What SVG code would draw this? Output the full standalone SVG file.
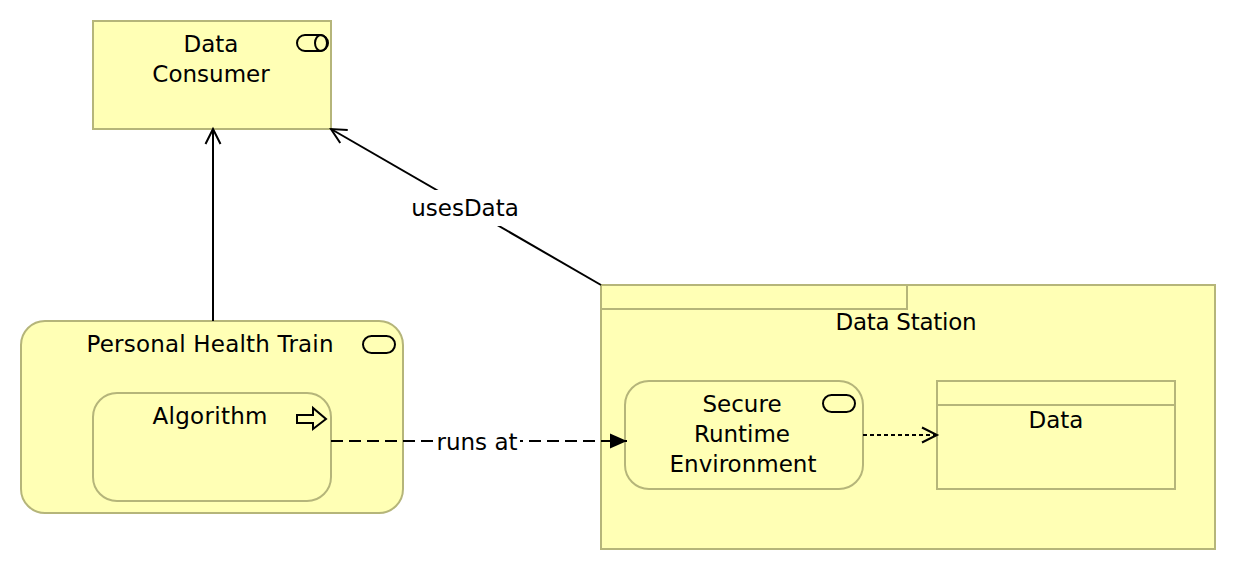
<svg xmlns="http://www.w3.org/2000/svg" width="1236" height="570" viewBox="0 0 1236 570">
<style>
.n{fill:#ffffb5;stroke:#b5b57a;stroke-width:2}
.t{font-family:"DejaVu Sans",Verdana,sans-serif;font-size:23px;fill:#000;text-anchor:middle}
.i{fill:none;stroke:#000;stroke-width:2}
.c{fill:none;stroke:#000;stroke-width:2}
</style>
<defs>
<marker id="open" markerUnits="userSpaceOnUse" markerWidth="24" markerHeight="24" refX="18" refY="12" orient="auto"><path d="M3 4.500L18 12L3 19.500" fill="none" stroke="#000" stroke-width="2"/></marker>
<marker id="solid" markerUnits="userSpaceOnUse" markerWidth="24" markerHeight="24" refX="20" refY="12" orient="auto"><path d="M3 4.500L20 12L3 19.500Z" fill="#000"/></marker>
</defs>
<rect width="1236" height="570" fill="#fff"/>
<g id="data-consumer">
<rect class="n" x="93" y="21" width="238" height="108"/>
<rect class="i" x="297" y="35" width="31" height="16" rx="8"/>
<ellipse class="i" cx="321" cy="43" rx="6" ry="8"/>
<text class="t" x="211" y="52">Data</text>
<text class="t" x="211" y="82">Consumer</text>
</g>
<g id="personal-health-train">
<rect class="n" x="21" y="321" width="382" height="192" rx="24"/>
<rect class="i" x="363" y="336" width="32" height="17" rx="8.500"/>
<text class="t" x="210" y="352" textLength="247">Personal Health Train</text>
</g>
<g id="algorithm">
<rect class="n" x="93" y="393" width="238" height="108" rx="24"/>
<path class="i" d="M297 415H313V408L326 419L313 429V423H297Z"/>
<text class="t" x="210" y="424" textLength="115">Algorithm</text>
</g>
<g id="data-station">
<rect class="n" x="601" y="285" width="614" height="264"/>
<path class="n" d="M601 285H907V309H601Z"/>
<text class="t" x="906" y="330" textLength="141">Data Station</text>
</g>
<g id="secure-runtime">
<rect class="n" x="625" y="381" width="238" height="108" rx="24"/>
<rect class="i" x="823" y="395" width="32" height="17" rx="8.500"/>
<text class="t" x="742" y="412">Secure</text>
<text class="t" x="742" y="442">Runtime</text>
<text class="t" x="743" y="472">Environment</text>
</g>
<g id="data">
<rect class="n" x="937" y="381" width="238" height="108"/>
<path class="n" d="M937 405H1175"/>
<text class="t" x="1056" y="428">Data</text>
</g>
<g id="connectors">
<path class="c" d="M213 321V129" marker-end="url(#open)"/>
<path class="c" d="M601 285L331 129" marker-end="url(#open)"/>
<path class="c" d="M331 441H627" stroke-dasharray="12 6" marker-end="url(#solid)"/>
<path class="c" d="M863 435H937" stroke-dasharray="4 3" marker-end="url(#open)"/>
<rect x="411" y="190" width="108" height="36" fill="#fff"/>
<rect x="436" y="428" width="84" height="26" fill="#fff"/>
<text class="t" x="465" y="216">usesData</text>
<text class="t" x="477" y="450">runs at</text>
</g>
</svg>
